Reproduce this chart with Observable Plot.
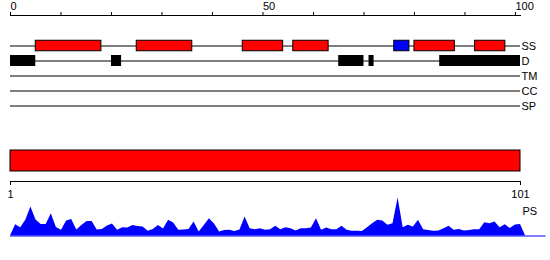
<!DOCTYPE html>
<html>
<head>
<meta charset="utf-8">
<script src="https://cdn.jsdelivr.net/npm/d3@7"></script>
<script src="https://cdn.jsdelivr.net/npm/@observablehq/plot@0.6"></script>
<style>
  html, body { margin: 0; padding: 0; background: white; }
  #chart { position: relative; width: 550px; height: 260px; overflow: hidden; }
  #chart svg { position: absolute; left: 0; background: none; }
</style>
</head>
<body>
<div id="chart"></div>
<script>
// ---- data ----
const tracks = ["SS", "D", "TM", "CC", "SP"];
const seqLength = 101;
const ssStart = [5, 25, 46, 56, 76, 80, 92];
const ssEnd   = [18, 36, 54, 63, 79, 88, 98];
const ssType  = ["H", "H", "H", "H", "E", "H", "H"];
const dStart = [0, 20, 65, 71, 85];
const dEnd   = [5, 22, 70, 72, 101];
const topTicks = [0, 10, 20, 30, 40, 50, 60, 70, 80, 90, 100];
const topTickLabels = [0, 50, 100];
const bottomTicks = [1, 101];
const psLabel = "PS";
const psValues = [
  0, 11.3, 8.3, 15.7, 29, 16, 11.5, 11.5, 22.3, 8.5,
  5.7, 15, 16.5, 6, 10.5, 14.5, 14.5, 6, 6.5, 10,
  12, 5.7, 8.3, 8, 10.5, 9.5, 9, 4.7, 6.5, 10.5,
  7, 15.7, 13, 5.7, 6, 6.5, 14, 4, 10.5, 17.3,
  12, 4, 5.5, 5.7, 4.5, 6, 19, 7.3, 6.3, 7.3,
  5.7, 6.3, 9.7, 6.3, 8.3, 7.3, 5, 7.3, 7.3, 8,
  17.3, 5.7, 8, 6.3, 6.3, 9.7, 5.7, 4.7, 4.7, 4.5,
  8.3, 12.3, 15.7, 15, 10.7, 12.3, 38, 8.3, 10.7, 9,
  15.7, 6.3, 5.5, 4.7, 5, 7.3, 9.7, 5.7, 6.5, 5,
  5.5, 6.3, 6.3, 13.3, 12.3, 14, 8.3, 11.3, 7.5, 11,
  11.5, 0, 0, 0, 0, 0
];

// ---- derived tables ----
const ssRows = ssStart.map((s, i) => ({start: s, end: ssEnd[i], type: ssType[i], track: "SS"}));
const disRows = dStart.map((s, i) => ({start: s, end: dEnd[i], track: "D"}));
const psRows = psValues.map((v, i) => ({pos: i + 1, value: v}));

const font = {fontFamily: "'Liberation Sans', Arial, sans-serif", fontSize: "11px", background: "none", overflow: "visible"};
const RED = "#ff0000", BLUE = "#0000ff";
const chartDiv = document.getElementById("chart");
function place(svg, y) { svg.style.top = y + "px"; chartDiv.appendChild(svg); }

// ---- top panel: ruler + feature tracks ----
const topPanel = Plot.plot({
  width: 550, height: 115,
  marginTop: 15, marginBottom: 0, marginLeft: 10, marginRight: 30,
  style: font,
  x: {domain: [0, seqLength]},
  y: {type: "band", domain: tracks, range: [37.5, 112.5], padding: 0, axis: null},
  color: {domain: ["H", "E"], range: [RED, BLUE]},
  marks: [
    Plot.frame({anchor: "top", stroke: "black"}),
    Plot.axisX({anchor: "top", ticks: topTicks, tickSize: 4, tickPadding: 2,
      tickFormat: d => topTickLabels.includes(d) ? String(d) : "",
      textAnchor: "start", fontSize: 11, stroke: "black", fill: "black"}),
    Plot.ruleY(tracks, {y: d => d, x1: 0, x2: seqLength, stroke: "black"}),
    Plot.barX(ssRows, {x1: "start", x2: "end", y: "track", fill: "type", stroke: "black", insetTop: 2.25, insetBottom: 2.25}),
    Plot.barX(disRows, {x1: "start", x2: "end", y: "track", fill: "black", insetTop: 2, insetBottom: 2}),
    Plot.text(tracks, {x: seqLength, y: d => d, text: d => d, textAnchor: "start", dx: 1, fontSize: 11, fill: "black"})
  ]
});
place(topPanel, 0);

// ---- bottom panel: full-length bar ----
const barPanel = Plot.plot({
  width: 550, height: 36,
  marginTop: 10, marginBottom: 5, marginLeft: 10, marginRight: 30,
  style: font,
  x: {domain: [bottomTicks[0], bottomTicks[1]], axis: null},
  marks: [
    Plot.barX([{start: bottomTicks[0], end: bottomTicks[1]}], {x1: "start", x2: "end", fill: RED, stroke: "black"})
  ]
});
place(barPanel, 140);

// ---- bottom panel: residue axis ----
const axisPanel = Plot.plot({
  width: 550, height: 60,
  marginTop: 0, marginBottom: 29, marginLeft: 10, marginRight: 30,
  style: font,
  x: {domain: [bottomTicks[0], bottomTicks[1]]},
  marks: [
    Plot.frame({anchor: "bottom", stroke: "black"}),
    Plot.axisX({anchor: "bottom", ticks: bottomTicks, tickSize: 4, tickPadding: 5,
      tickFormat: d => String(d), fontSize: 11, stroke: "black", fill: "black"})
  ]
});
place(axisPanel, 150);

// ---- bottom panel: PS profile ----
const profPanel = Plot.plot({
  width: 550, height: 120,
  marginTop: 57.5, marginBottom: 24.5, marginLeft: 10, marginRight: 30,
  style: font,
  x: {domain: [bottomTicks[0], bottomTicks[1]], axis: null},
  y: {domain: [0, d3.max(psValues)], axis: null},
  marks: [
    Plot.ruleY([0], {x1: psRows[0].pos, x2: psRows[psRows.length - 1].pos, stroke: BLUE}),
    Plot.areaY(psRows, {x: "pos", y: "value", fill: BLUE}),
    Plot.text([psLabel], {text: d => d, frameAnchor: "top-right", textAnchor: "start", lineAnchor: "middle", dx: 2, dy: 13, fontSize: 11, fill: "black"})
  ]
});
place(profPanel, 140);
</script>
</body>
</html>
